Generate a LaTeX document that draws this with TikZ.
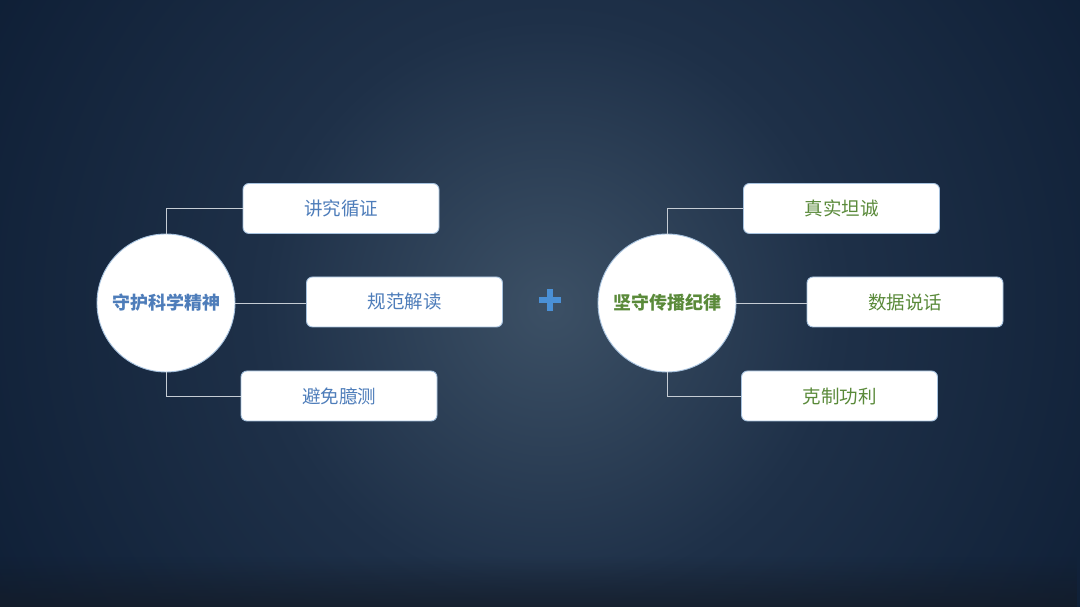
\documentclass[tikz,border=0pt]{standalone}
\usepackage{fontspec}
\setmainfont{Noto Sans CJK SC}
\usetikzlibrary{fadings}
\definecolor{bgout}{HTML}{0C1C33}
\definecolor{bgmid}{HTML}{1E3048}
\definecolor{bgin}{HTML}{3C5065}
\definecolor{bgbot}{HTML}{141B26}
\definecolor{tblue}{HTML}{4E7DBA}
\definecolor{tgreen}{HTML}{5A8A3A}
\definecolor{edge}{HTML}{A7C2DE}
\definecolor{conn}{HTML}{C5CCD4}
\definecolor{plusc}{HTML}{4A90D6}
\pgfdeclareradialshading{glow}{\pgfpoint{0bp}{0bp}}{color(0bp)=(bgin); color(9bp)=(bgmid); color(22bp)=(bgout); color(50bp)=(bgout)}
\tikzset{
  hub/.style={circle, fill=white, draw=edge, line width=0.9pt, minimum size=138pt, inner sep=0pt, font=\fontsize{18}{21}\selectfont\bfseries},
  leaf/.style={rectangle, rounded corners=6pt, fill=white, draw=edge, line width=0.9pt, minimum width=196pt, minimum height=50pt, inner sep=0pt, font=\fontsize{18.5}{22}\selectfont},
  link/.style={draw=conn, line width=0.8pt}
}
\begin{document}
\begin{tikzpicture}[x=1pt,y=1pt]
\useasboundingbox (0,0) rectangle (1080,607);
\begin{scope}
\clip (0,0) rectangle (1080,607);
\fill[bgout] (0,0) rectangle (1080,607);
\shade[shading=glow] (550,300) circle (800);
\fill[bgbot, opacity=0.7, path fading=north] (0,0) rectangle (1080,50);
\end{scope}
% left group
\node[hub, text=tblue] (c1) at (166,304) {守护科学精神};
\node[leaf, text=tblue] (a1) at (341,398.5) {讲究循证};
\node[leaf, text=tblue] (a2) at (404.5,305) {规范解读};
\node[leaf, text=tblue] (a3) at (339,211) {避免臆测};
\draw[link] (c1.north) |- (a1.west);
\draw[link] (c1.east) -- (c1.east -| a2.west);
\draw[link] (c1.south) |- (a3.west);
% plus
\fill[plusc] (539,304) rectangle (561,310);
\fill[plusc] (547,296) rectangle (553,318);
% right group
\node[hub, text=tgreen] (c2) at (667,304) {坚守传播纪律};
\node[leaf, text=tgreen] (b1) at (841.5,398.5) {真实坦诚};
\node[leaf, text=tgreen] (b2) at (905,305) {数据说话};
\node[leaf, text=tgreen] (b3) at (839.5,211) {克制功利};
\draw[link] (c2.north) |- (b1.west);
\draw[link] (c2.east) -- (c2.east -| b2.west);
\draw[link] (c2.south) |- (b3.west);
\end{tikzpicture}
\end{document}
